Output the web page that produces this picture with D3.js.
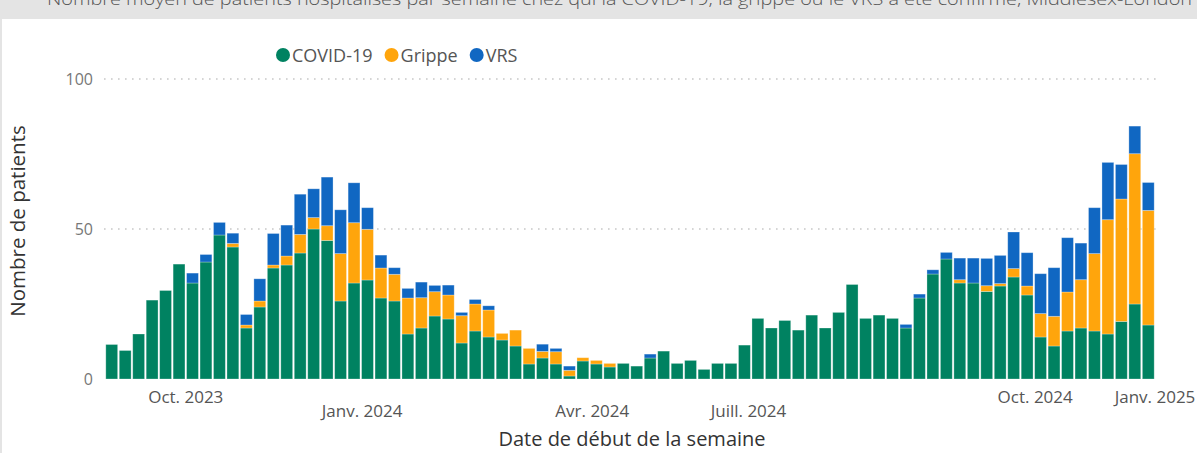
<!DOCTYPE html>
<html>
<head>
<meta charset="utf-8">
<script src="https://cdn.jsdelivr.net/npm/d3@7"></script>
<style>
  body { margin: 0; background: #e4e4e4; }
  svg { display: block; font-family: "Open Sans", "Noto Sans", sans-serif; }
</style>
</head>
<body>
<div id="chart"></div>
<script>
// semaines (78 semaines consécutives)
var weekStart = new Date(Date.UTC(2023, 7, 21));
var weeks = d3.range(78).map(i => d3.utcDay.offset(weekStart, 7 * i));

var covid = [11.5, 9.5, 15, 26.3, 29.5, 38.3, 32, 39, 48, 44, 17, 24, 37, 38, 42, 50, 46.2, 26, 32, 33,
  27, 26, 15, 17, 21, 20, 12, 16, 14, 13, 11, 5, 7, 5, 1, 6, 5, 4, 5.2, 4.3,
  7, 9.3, 5.2, 6.2, 3.2, 5.2, 5.2, 11.3, 20.2, 17, 19.5, 16.3, 21.3, 17, 22.2, 31.5, 20.2, 21.3, 20.2, 17,
  27, 35, 40, 32, 32, 29.2, 31, 34, 28, 14, 11, 16, 17, 16, 15, 19.2, 25, 18];
var grippe = [0, 0, 0, 0, 0, 0, 0, 0, 0, 1.2, 1, 2, 1, 3, 6.2, 3.8, 4.9, 15.8, 20.1, 16.9,
  10, 8.9, 12, 10.1, 8.1, 8, 9.1, 9, 9, 2.2, 5.3, 5.2, 2.2, 4.1, 1.9, 1.1, 1.2, 1.2, 0, 0,
  0, 0, 0, 0, 0, 0, 0, 0, 0, 0, 0, 0, 0, 0, 0, 0, 0, 0, 0, 0,
  0, 0, 0, 1.1, 0, 1.9, 0.8, 2.8, 3, 7.8, 9.9, 13, 16.1, 25.8, 38.1, 40.8, 50.1, 38.2];
var vrs = [0, 0, 0, 0, 0, 0, 3.3, 2.5, 4.2, 3.4, 3.5, 7.4, 10.5, 10.3, 13.4, 9.6, 16.2, 14.6, 13.3, 7.2,
  4.3, 2.2, 3.2, 5.2, 2.1, 3.3, 1.1, 1.5, 1.4, 0, 0, 0, 2.4, 1.1, 1.4, 0, 0, 0, 0, 0,
  1.3, 0, 0, 0, 0, 0, 0, 0, 0, 0, 0, 0, 0, 0, 0, 0, 0, 0, 0, 1.2,
  1.3, 1.4, 2.2, 7.2, 8.3, 9.1, 9.4, 12.2, 11.1, 13.3, 16.2, 18.1, 12.2, 15.3, 19.1, 11.5, 9.2, 9.3];

var seriesNames = ["COVID-19", "Grippe", "VRS"];
var colors = ["#008261", "#ffa50c", "#1067c2"];

var yTicks = [0, 50, 100];
// étiquettes de l'axe x, placées sur une position de semaine (index)
var xTickLabels = ["Oct. 2023", "Janv. 2024", "Avr. 2024", "Juill. 2024", "Oct. 2024", "Janv. 2025"];
var xTickWeek = [5.5, 18.6, 35.7, 47.3, 68.6, 77.5];
var xTickRow = [0, 1, 1, 1, 0, 0];

var titleText = "Nombre moyen de patients hospitalisés par semaine chez qui la COVID-19, la grippe ou le VRS a été confirmé, Middlesex-London";

var width = 1197, height = 453;

var table = weeks.map((w, i) => ({ week: w, "COVID-19": covid[i], "Grippe": grippe[i], "VRS": vrs[i] }));
var stacked = d3.stack().keys(seriesNames)(table);

var svg = d3.select("#chart").append("svg")
  .attr("width", width)
  .attr("height", height);

// fond gris + carte blanche
svg.append("rect").attr("width", width).attr("height", height).attr("fill", "#e4e4e4");
svg.append("rect").attr("x", 2).attr("y", 19).attr("width", width - 2).attr("height", height - 19).attr("fill", "#fff");

// titre (coupé en haut, comme dans le rapport)
svg.append("text")
  .attr("x", 47).attr("y", 5)
  .attr("font-size", 17)
  .attr("font-weight", 300)
  .attr("fill", "#555")
  .attr("textLength", 1145)
  .attr("lengthAdjust", "spacingAndGlyphs")
  .text(titleText);

var x = d3.scaleBand().domain(weeks).range([105, 1155]).paddingInner(0.12).paddingOuter(0.06);
var y = d3.scaleLinear().domain([0, 100]).range([379, 79]);
var xPos = d3.scaleLinear()
  .domain([0, weeks.length - 1])
  .range([x(weeks[0]) + x.bandwidth() / 2, x(weeks[weeks.length - 1]) + x.bandwidth() / 2]);

// grille pointillée
svg.append("g").selectAll("line")
  .data(yTicks.filter(d => d > 0))
  .enter().append("line")
  .attr("x1", 104).attr("x2", 1156)
  .attr("y1", d => y(d)).attr("y2", d => y(d))
  .attr("stroke", "#c8c8c8")
  .attr("stroke-width", 1.6)
  .attr("stroke-dasharray", "1.6,5.4");

// axe y
var yAxis = svg.append("g")
  .attr("transform", "translate(93,0)")
  .call(d3.axisLeft(y).tickValues(yTicks).tickSize(0).tickPadding(0));
yAxis.select(".domain").remove();
yAxis.selectAll("text")
  .attr("font-size", 16)
  .attr("fill", "#777")
  .attr("font-family", "'Open Sans', sans-serif");

// barres empilées
svg.append("g").selectAll("g")
  .data(stacked)
  .enter().append("g")
  .attr("fill", (d, i) => colors[i])
  .selectAll("rect")
  .data(d => d.filter(s => s[1] - s[0] > 0))
  .enter().append("rect")
  .attr("x", d => x(d.data.week))
  .attr("y", d => y(d[1]))
  .attr("width", x.bandwidth())
  .attr("height", d => y(d[0]) - y(d[1]))
  .attr("stroke", "#ffffff")
  .attr("stroke-opacity", 0.35)
  .attr("stroke-width", 0.8);

// étiquettes de l'axe x
svg.append("g").selectAll("text")
  .data(xTickLabels)
  .enter().append("text")
  .attr("x", (d, i) => xPos(xTickWeek[i]))
  .attr("y", (d, i) => 403 + xTickRow[i] * 14)
  .attr("text-anchor", "middle")
  .attr("font-size", 17)
  .attr("fill", "#555")
  .text(d => d);

// titres des axes
svg.append("text")
  .attr("x", 632).attr("y", 446)
  .attr("text-anchor", "middle")
  .attr("font-size", 20)
  .attr("fill", "#333")
  .text("Date de début de la semaine");

svg.append("text")
  .attr("transform", "translate(25,221) rotate(-90)")
  .attr("text-anchor", "middle")
  .attr("font-size", 20.5)
  .attr("fill", "#333")
  .text("Nombre de patients");

// légende
var legend = svg.append("g").attr("transform", "translate(276,55)");
var lx = 0;
seriesNames.forEach((name, i) => {
  var g = legend.append("g").attr("transform", `translate(${lx},0)`);
  g.append("circle").attr("cx", 7).attr("cy", 0).attr("r", 7).attr("fill", colors[i]);
  var t = g.append("text")
    .attr("x", 16).attr("y", 6.5)
    .attr("font-size", 18)
    .attr("fill", "#555")
    .text(name);
  lx += 16 + t.node().getComputedTextLength() + 12;
});
</script>
</body>
</html>
